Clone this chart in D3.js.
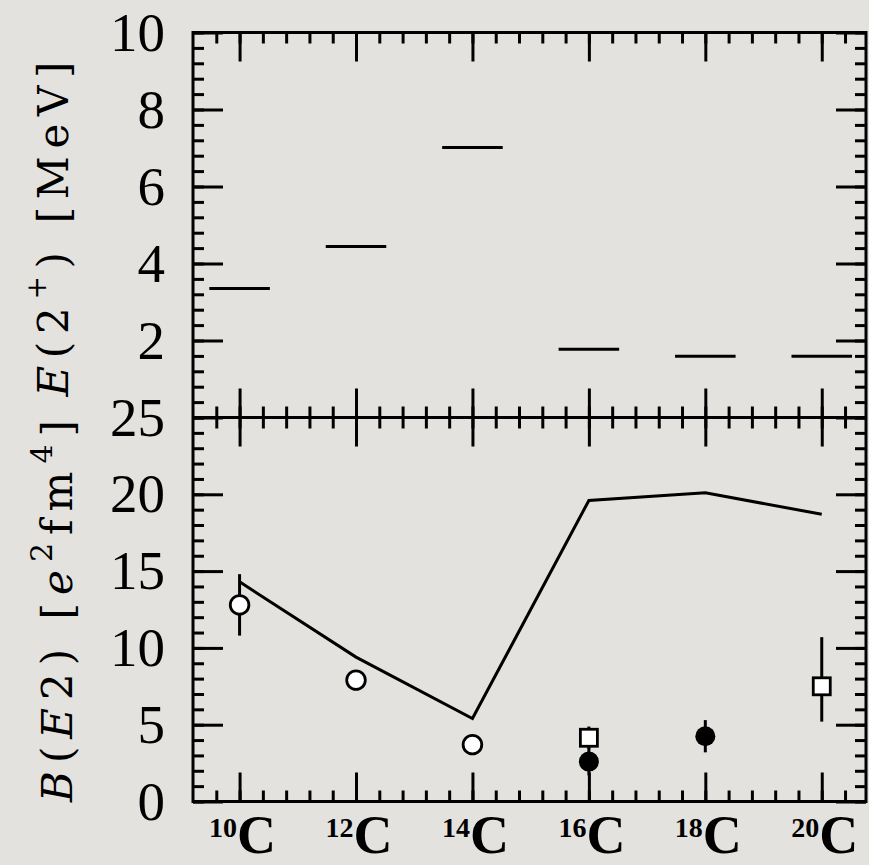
<!DOCTYPE html>
<html>
<head>
<meta charset="utf-8">
<script src="https://cdn.jsdelivr.net/npm/d3@7"></script>
<style>
  html, body { margin: 0; padding: 0; background: #e3e1dd; }
  svg { display: block; }
</style>
</head>
<body>
<div id="chart"></div>
<script>
// carbon isotopes along the x axis
const isotopes = ["10", "12", "14", "16", "18", "20"];
const massNumbers = [10, 12, 14, 16, 18, 20];

// top panel: E(2+) in MeV
const e2Energy = [3.35, 4.44, 7.01, 1.77, 1.59, 1.59];

// bottom panel: B(E2) theory line
const theoryBE2 = [14.3, 9.4, 5.4, 19.6, 20.1, 18.7];

// bottom panel: measured points
const openCircleA = [10, 12, 14];
const openCircleVal = [12.8, 7.9, 3.7];
const openCircleErr = [2.0, 0.4, 0.5];

const filledCircleA = [16, 18];
const filledCircleVal = [2.6, 4.25];
const filledCircleErr = [0.9, 1.05];

const squareA = [16, 20];
const squareVal = [4.15, 7.5];
const squareErrUp = [0.73, 3.2];
const squareErrDown = [0.73, 2.3];

// tick labels
const topTicks = [2, 4, 6, 8, 10];
const bottomTicks = [0, 5, 10, 15, 20, 25];

const width = 869, height = 865;
const mLeft = 193, mRight = 866, mTop = 32.5, mMid = 417.5, mBottom = 801.5;

const svg = d3.select("#chart").append("svg")
  .attr("width", width)
  .attr("height", height)
  .attr("viewBox", [0, 0, width, height]);

svg.append("rect").attr("width", width).attr("height", height).attr("fill", "#e4e2de");

const x = d3.scaleLinear().domain([9.2, 20.76]).range([mLeft, mRight]);
const yTop = d3.scaleLinear().domain([0, 10]).range([mMid, mTop]);
const yBot = d3.scaleLinear().domain([0, 25]).range([mBottom, mMid]);

const xMinor = d3.range(24, 52).map(i => i * 0.4);
const yTopMinor = d3.range(0, 26).map(i => i * 0.4);
const yBotMinor = d3.range(0, 26);

const tickFont = "'Liberation Serif', 'Times New Roman', serif";
const titleFont = "'DejaVu Serif', serif";

function drawAxis(axis, values, size, tx, ty, labels) {
  const g = svg.append("g")
    .attr("transform", `translate(${tx},${ty})`)
    .call(axis.tickValues(values).tickSizeInner(size).tickSizeOuter(0)
      .tickPadding(28).tickFormat(labels ? d3.format("d") : () => ""));
  g.select(".domain").remove();
  g.selectAll(".tick line").attr("stroke", "#000").attr("stroke-width", 3);
  g.selectAll(".tick text")
    .attr("fill", "#000")
    .style("font-family", tickFont)
    .style("font-size", "55px");
  return g;
}

// top panel axes
drawAxis(d3.axisLeft(yTop), yTopMinor, -11, mLeft, 0);
drawAxis(d3.axisLeft(yTop), topTicks, -30, mLeft, 0, true);
drawAxis(d3.axisRight(yTop), yTopMinor, -11, mRight, 0);
drawAxis(d3.axisRight(yTop), topTicks, -30, mRight, 0);
drawAxis(d3.axisTop(x), xMinor, -11, 0, mTop);
drawAxis(d3.axisTop(x), massNumbers, -29, 0, mTop);
drawAxis(d3.axisBottom(x), xMinor, -11, 0, mMid);
drawAxis(d3.axisBottom(x), massNumbers, -29, 0, mMid);

// bottom panel axes
drawAxis(d3.axisLeft(yBot), yBotMinor, -11, mLeft, 0);
drawAxis(d3.axisLeft(yBot), bottomTicks, -30, mLeft, 0, true);
drawAxis(d3.axisRight(yBot), yBotMinor, -11, mRight, 0);
drawAxis(d3.axisRight(yBot), bottomTicks, -30, mRight, 0);
drawAxis(d3.axisTop(x), xMinor, -11, 0, mMid);
drawAxis(d3.axisTop(x), massNumbers, -29, 0, mMid);
drawAxis(d3.axisBottom(x), xMinor, -11, 0, mBottom);
drawAxis(d3.axisBottom(x), massNumbers, -29, 0, mBottom);

// frames
svg.append("rect")
  .attr("x", mLeft).attr("y", mTop)
  .attr("width", mRight - mLeft).attr("height", mBottom - mTop)
  .attr("fill", "none").attr("stroke", "#000").attr("stroke-width", 3);
svg.append("line")
  .attr("x1", mLeft).attr("x2", mRight).attr("y1", mMid).attr("y2", mMid)
  .attr("stroke", "#000").attr("stroke-width", 3);

// E(2+) levels
svg.append("g")
  .selectAll("line")
  .data(massNumbers)
  .join("line")
  .attr("x1", d => x(d - 0.52))
  .attr("x2", d => x(d + 0.52))
  .attr("y1", (d, i) => yTop(e2Energy[i]))
  .attr("y2", (d, i) => yTop(e2Energy[i]))
  .attr("stroke", "#000").attr("stroke-width", 3);

// theory line
const line = d3.line()
  .x((d, i) => x(massNumbers[i]))
  .y(d => yBot(d));
svg.append("path")
  .datum(theoryBE2)
  .attr("d", line)
  .attr("fill", "none")
  .attr("stroke", "#000")
  .attr("stroke-width", 3)
  .attr("stroke-linejoin", "miter");

// error bars
const errs = svg.append("g").attr("stroke", "#000").attr("stroke-width", 3);
errs.selectAll(".oc").data(openCircleA).join("line")
  .attr("x1", d => x(d)).attr("x2", d => x(d))
  .attr("y1", (d, i) => yBot(openCircleVal[i] + openCircleErr[i]))
  .attr("y2", (d, i) => yBot(openCircleVal[i] - openCircleErr[i]));
errs.selectAll(".fc").data(filledCircleA).join("line")
  .attr("x1", d => x(d)).attr("x2", d => x(d))
  .attr("y1", (d, i) => yBot(filledCircleVal[i] + filledCircleErr[i]))
  .attr("y2", (d, i) => yBot(filledCircleVal[i] - filledCircleErr[i]));
errs.selectAll(".sq").data(squareA).join("line")
  .attr("x1", d => x(d)).attr("x2", d => x(d))
  .attr("y1", (d, i) => yBot(squareVal[i] + squareErrUp[i]))
  .attr("y2", (d, i) => yBot(squareVal[i] - squareErrDown[i]));

// markers
svg.append("g").selectAll("circle").data(openCircleA).join("circle")
  .attr("cx", d => x(d))
  .attr("cy", (d, i) => yBot(openCircleVal[i]))
  .attr("r", 9.3)
  .attr("fill", "#fff").attr("stroke", "#000").attr("stroke-width", 2.8);

svg.append("g").selectAll("circle").data(filledCircleA).join("circle")
  .attr("cx", d => x(d))
  .attr("cy", (d, i) => yBot(filledCircleVal[i]))
  .attr("r", 10)
  .attr("fill", "#000");

svg.append("g").selectAll("rect").data(squareA).join("rect")
  .attr("x", d => x(d) - 8.5)
  .attr("y", (d, i) => yBot(squareVal[i]) - 8.5)
  .attr("width", 17).attr("height", 17)
  .attr("fill", "#fff").attr("stroke", "#000").attr("stroke-width", 2.8);

// isotope labels
const lbl = svg.append("g")
  .selectAll("text")
  .data(massNumbers)
  .join("text")
  .attr("x", d => x(d) + 3)
  .attr("y", 853)
  .attr("text-anchor", "middle")
  .style("font-family", tickFont)
  .style("font-weight", "bold");
lbl.append("tspan")
  .attr("font-size", 28)
  .attr("dy", -16)
  .text((d, i) => isotopes[i]);
lbl.append("tspan")
  .attr("font-size", 54)
  .attr("dy", 16)
  .text("C");

// y axis titles
const t1 = svg.append("text")
  .attr("transform", "translate(68,229) rotate(-90)")
  .attr("text-anchor", "middle")
  .attr("textLength", 335)
  .attr("lengthAdjust", "spacing")
  .style("font-family", titleFont)
  .style("font-size", "42px");
t1.append("tspan").style("font-style", "italic").text("E");
t1.append("tspan").text("(2");
t1.append("tspan").attr("font-size", 28).attr("dy", -22).text("+");
t1.append("tspan").attr("dy", 22).text(")\u00a0[MeV]");

const t2 = svg.append("text")
  .attr("transform", "translate(72,611) rotate(-90)")
  .attr("text-anchor", "middle")
  .attr("textLength", 382)
  .attr("lengthAdjust", "spacing")
  .style("font-family", titleFont)
  .style("font-size", "42px");
t2.append("tspan").style("font-style", "italic").text("B");
t2.append("tspan").text("(");
t2.append("tspan").style("font-style", "italic").text("E");
t2.append("tspan").text("2)\u00a0[");
t2.append("tspan").style("font-style", "italic").text("e");
t2.append("tspan").attr("font-size", 30).attr("dy", -20).text("2");
t2.append("tspan").attr("dy", 20).text("fm");
t2.append("tspan").attr("font-size", 30).attr("dy", -20).text("4");
t2.append("tspan").attr("dy", 20).text("]");
</script>
</body>
</html>
